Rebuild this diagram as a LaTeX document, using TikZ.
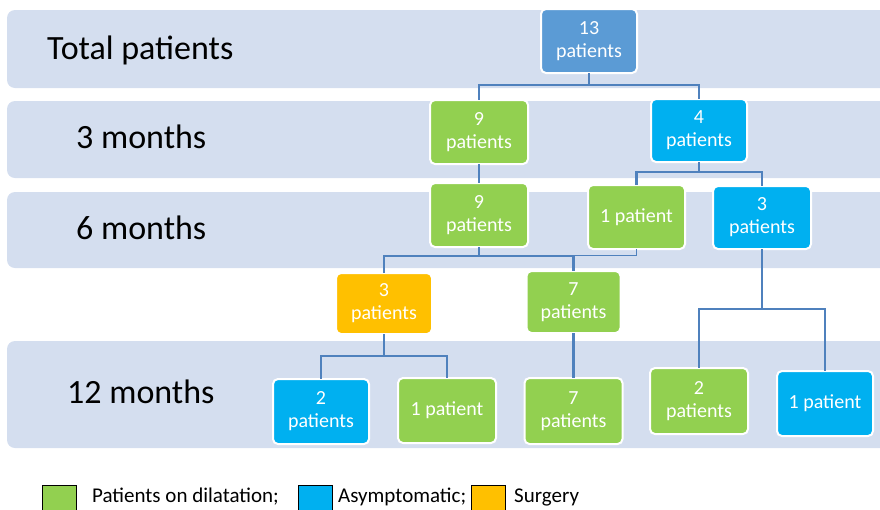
\documentclass[tikz,border=0pt]{standalone}
\usepackage{fontspec}
\setmainfont{Carlito}
\definecolor{bandc}{RGB}{212,222,239}
\definecolor{gr}{RGB}{146,208,80}
\definecolor{cy}{RGB}{0,176,240}
\definecolor{orr}{RGB}{255,192,0}
\definecolor{topb}{RGB}{91,155,213}
\definecolor{conn}{RGB}{79,129,189}
\tikzset{
  box/.style={draw=white, line width=2pt, rounded corners=5pt, text=white, align=center,
    font=\fontsize{20}{23}\selectfont, inner sep=0pt},
  gbox/.style={box, fill=gr},
  cbox/.style={box, fill=cy},
  obox/.style={box, fill=orr},
  bbox/.style={box, fill=topb},
  lab/.style={anchor=base west, font=\fontsize{34}{40}\selectfont, inner sep=0pt},
  lg/.style={draw=black, line width=1.4pt, minimum width=34pt, minimum height=27pt, inner sep=0pt, anchor=north west},
  lgt/.style={anchor=west, font=\fontsize{21}{24}\selectfont, inner sep=0pt},
  link/.style={draw=conn, line width=2.6pt},
}
\begin{document}
\begin{tikzpicture}[x=1pt,y=-1pt]
\useasboundingbox (0,0) rectangle (880,509);
\begin{scope}
\clip (0,0) rectangle (880,509);
\fill[bandc, rounded corners=8pt] (7,10) rectangle (895,88);
\fill[bandc, rounded corners=8pt] (7,101) rectangle (895,178);
\fill[bandc, rounded corners=8pt] (7,192) rectangle (895,268);
\fill[bandc, rounded corners=8pt] (7,341) rectangle (895,448);
\node[lg, fill=gr] (lg1) at (42,485) {};
\node[lg, fill=cy] (lg2) at (298,485) {};
\node[lg, fill=orr] (lg3) at (471,485) {};
\end{scope}
\node[lab] (l0) at (47,59) {Total patients};
\node[lab] (l1) at (76,148) {3 months};
\node[lab] (l2) at (76,239) {6 months};
\node[lab] (l3) at (67,403) {12 months};

\node[lgt] (t1) at (92,497) {Patients on dilatation;};
\node[lgt] (t2) at (338,497) {Asymptomatic;};
\node[lgt] (t3) at (514,497) {Surgery};

% nodes
\node[bbox, minimum width=96pt, minimum height=64pt] (n13) at (589,41) {13\\patients};
\node[gbox, minimum width=98pt, minimum height=64pt] (g9a) at (479,132) {9\\patients};
\node[cbox, minimum width=96pt, minimum height=63pt] (c4) at (699,130.5) {4\\patients};
\node[gbox, minimum width=98pt, minimum height=64pt] (g9b) at (479,215) {9\\patients};
\node[gbox, minimum width=97pt, minimum height=64pt] (g1a) at (636.5,217) {1 patient};
\node[cbox, minimum width=98pt, minimum height=63pt] (c3) at (762,217.5) {3\\patients};
\node[obox, minimum width=96pt, minimum height=61pt] (o3) at (384,303.5) {3\\patients};
\node[gbox, minimum width=94pt, minimum height=62pt] (g7a) at (573.5,302) {7\\patients};
\node[cbox, minimum width=96pt, minimum height=65pt] (c2) at (321,411.5) {2\\patients};
\node[gbox, minimum width=98pt, minimum height=65pt] (g1b) at (447,410.5) {1 patient};
\node[gbox, minimum width=98pt, minimum height=66pt] (g7b) at (573.5,411) {7\\patients};
\node[gbox, minimum width=98pt, minimum height=66pt] (g2) at (699,401) {2\\patients};
\node[cbox, minimum width=96pt, minimum height=65pt] (c1) at (825,403.5) {1 patient};

% connectors
\draw[link] ([yshift=1pt]n13.south) -- ++(0,12) -| ([yshift=-1pt]g9a.north);
\draw[link] ([yshift=1pt]n13.south) -- ++(0,12) -| ([yshift=-1pt]c4.north);
\draw[link] ([yshift=1pt]g9a.south) -- ([yshift=-1pt]g9b.north);
\draw[link] ([yshift=1pt]c4.south) -- ++(0,10) -| ([yshift=-1pt]g1a.north);
\draw[link] ([yshift=1pt]c4.south) -- ++(0,10) -| ([yshift=-1pt]c3.north);
\draw[draw=conn, line width=1pt] ([yshift=1pt]g1a.south) -- ++(0,6) -| ([yshift=-1pt]g7a.north);
\draw[link] ([yshift=1pt]g9b.south) -- ++(0,9) -| ([yshift=-1pt]o3.north);
\draw[link] ([yshift=1pt]g9b.south) -- ++(0,9) -| ([yshift=-1pt]g7a.north);
\draw[link] ([yshift=1pt]c3.south) -- ++(0,60) -| ([yshift=-1pt]g2.north);
\draw[link] ([yshift=1pt]c3.south) -- ++(0,60) -| ([yshift=-1pt]c1.north);
\draw[link] ([yshift=1pt]o3.south) -- ++(0,22) -| ([yshift=-1pt]c2.north);
\draw[link] ([yshift=1pt]o3.south) -- ++(0,22) -| ([yshift=-1pt]g1b.north);
\draw[link] ([yshift=1pt]g7a.south) -- ([yshift=-1pt]g7b.north);
\end{tikzpicture}
\end{document}
